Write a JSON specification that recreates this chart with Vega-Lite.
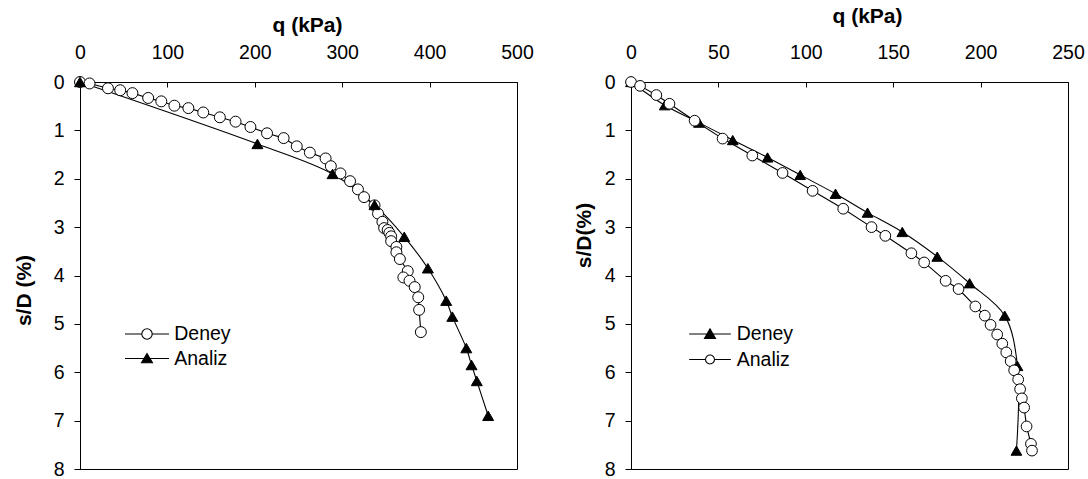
{
  "$schema": "https://vega.github.io/schema/vega-lite/v6.json",
  "background": "white",
  "padding": {"left": 12, "top": 4, "right": 5, "bottom": 5},
  "bounds": "flush",
  "spacing": 114,
  "config": {
    "view": {"stroke": "black", "strokeWidth": 1},
    "axis": {
      "grid": false, "domainColor": "black", "tickColor": "black", "labelColor": "black", "titleColor": "black",
      "labelFont": "Liberation Sans", "titleFont": "Liberation Sans", "labelFontSize": 19.5, "titleFontSize": 21,
      "titleFontWeight": "bold", "labelFlush": false, "labelOverlap": false, "domainWidth": 1, "tickWidth": 1
    },
    "legend": {
      "orient": "none", "labelFont": "Liberation Sans", "labelFontSize": 19.5, "labelColor": "black",
      "padding": 0, "titleFontSize": 0, "symbolOpacity": 1, "symbolStrokeWidth": 1.1
    }
  },
  "datasets": {
    "left": [
      {"series": "Deney", "i": 0, "q": 0, "s": 0},
      {"series": "Deney", "i": 1, "q": 10.9, "s": 0.03},
      {"series": "Deney", "i": 2, "q": 32, "s": 0.13},
      {"series": "Deney", "i": 3, "q": 46, "s": 0.17},
      {"series": "Deney", "i": 4, "q": 60, "s": 0.23},
      {"series": "Deney", "i": 5, "q": 78, "s": 0.33},
      {"series": "Deney", "i": 6, "q": 93, "s": 0.4},
      {"series": "Deney", "i": 7, "q": 108, "s": 0.49},
      {"series": "Deney", "i": 8, "q": 124, "s": 0.54},
      {"series": "Deney", "i": 9, "q": 141, "s": 0.63},
      {"series": "Deney", "i": 10, "q": 160, "s": 0.73},
      {"series": "Deney", "i": 11, "q": 178, "s": 0.82},
      {"series": "Deney", "i": 12, "q": 195, "s": 0.93},
      {"series": "Deney", "i": 13, "q": 214, "s": 1.06},
      {"series": "Deney", "i": 14, "q": 233, "s": 1.16},
      {"series": "Deney", "i": 15, "q": 248, "s": 1.33},
      {"series": "Deney", "i": 16, "q": 263, "s": 1.46},
      {"series": "Deney", "i": 17, "q": 281, "s": 1.58},
      {"series": "Deney", "i": 18, "q": 287, "s": 1.74},
      {"series": "Deney", "i": 19, "q": 298, "s": 1.89},
      {"series": "Deney", "i": 20, "q": 309, "s": 2.05},
      {"series": "Deney", "i": 21, "q": 318, "s": 2.22},
      {"series": "Deney", "i": 22, "q": 325, "s": 2.38},
      {"series": "Deney", "i": 23, "q": 337, "s": 2.55},
      {"series": "Deney", "i": 24, "q": 341, "s": 2.72},
      {"series": "Deney", "i": 25, "q": 346, "s": 2.89},
      {"series": "Deney", "i": 26, "q": 348, "s": 3.02},
      {"series": "Deney", "i": 27, "q": 352, "s": 3.06},
      {"series": "Deney", "i": 28, "q": 354, "s": 3.12},
      {"series": "Deney", "i": 29, "q": 356, "s": 3.19},
      {"series": "Deney", "i": 30, "q": 356, "s": 3.29},
      {"series": "Deney", "i": 31, "q": 362, "s": 3.41},
      {"series": "Deney", "i": 32, "q": 362, "s": 3.52},
      {"series": "Deney", "i": 33, "q": 366, "s": 3.66},
      {"series": "Deney", "i": 34, "q": 375, "s": 3.91},
      {"series": "Deney", "i": 35, "q": 370, "s": 4.04},
      {"series": "Deney", "i": 36, "q": 377, "s": 4.11},
      {"series": "Deney", "i": 37, "q": 383, "s": 4.24},
      {"series": "Deney", "i": 38, "q": 387, "s": 4.45},
      {"series": "Deney", "i": 39, "q": 388, "s": 4.71},
      {"series": "Deney", "i": 40, "q": 390, "s": 5.17},
      {"series": "Analiz", "i": 0, "q": 0, "s": 0},
      {"series": "Analiz", "i": 1, "q": 203, "s": 1.28},
      {"series": "Analiz", "i": 2, "q": 289, "s": 1.9},
      {"series": "Analiz", "i": 3, "q": 337, "s": 2.54},
      {"series": "Analiz", "i": 4, "q": 371, "s": 3.2},
      {"series": "Analiz", "i": 5, "q": 398, "s": 3.85},
      {"series": "Analiz", "i": 6, "q": 419, "s": 4.52},
      {"series": "Analiz", "i": 7, "q": 426, "s": 4.85},
      {"series": "Analiz", "i": 8, "q": 442, "s": 5.5},
      {"series": "Analiz", "i": 9, "q": 448, "s": 5.85},
      {"series": "Analiz", "i": 10, "q": 454, "s": 6.18},
      {"series": "Analiz", "i": 11, "q": 467, "s": 6.9}
    ],
    "right": [
      {"series": "Deney", "i": 0, "q": 0, "s": 0},
      {"series": "Deney", "i": 1, "q": 19.3, "s": 0.48},
      {"series": "Deney", "i": 2, "q": 38.9, "s": 0.84},
      {"series": "Deney", "i": 3, "q": 58.2, "s": 1.2},
      {"series": "Deney", "i": 4, "q": 78.1, "s": 1.56},
      {"series": "Deney", "i": 5, "q": 96.8, "s": 1.92},
      {"series": "Deney", "i": 6, "q": 117, "s": 2.31},
      {"series": "Deney", "i": 7, "q": 135.3, "s": 2.7},
      {"series": "Deney", "i": 8, "q": 155.2, "s": 3.1},
      {"series": "Deney", "i": 9, "q": 175.2, "s": 3.61},
      {"series": "Deney", "i": 10, "q": 193.7, "s": 4.16},
      {"series": "Deney", "i": 11, "q": 213.8, "s": 4.83},
      {"series": "Deney", "i": 12, "q": 221.1, "s": 5.87},
      {"series": "Deney", "i": 13, "q": 220.5, "s": 7.62},
      {"series": "Analiz", "i": 0, "q": 0, "s": 0},
      {"series": "Analiz", "i": 1, "q": 5.2, "s": 0.08},
      {"series": "Analiz", "i": 2, "q": 14.5, "s": 0.27},
      {"series": "Analiz", "i": 3, "q": 22, "s": 0.45},
      {"series": "Analiz", "i": 4, "q": 36.4, "s": 0.8},
      {"series": "Analiz", "i": 5, "q": 52.4, "s": 1.17},
      {"series": "Analiz", "i": 6, "q": 69.4, "s": 1.52},
      {"series": "Analiz", "i": 7, "q": 86.7, "s": 1.88},
      {"series": "Analiz", "i": 8, "q": 103.9, "s": 2.25},
      {"series": "Analiz", "i": 9, "q": 121.4, "s": 2.62},
      {"series": "Analiz", "i": 10, "q": 137.6, "s": 3.0},
      {"series": "Analiz", "i": 11, "q": 145.5, "s": 3.18},
      {"series": "Analiz", "i": 12, "q": 160.4, "s": 3.54},
      {"series": "Analiz", "i": 13, "q": 167.7, "s": 3.73},
      {"series": "Analiz", "i": 14, "q": 180, "s": 4.11},
      {"series": "Analiz", "i": 15, "q": 187.4, "s": 4.28},
      {"series": "Analiz", "i": 16, "q": 197, "s": 4.64},
      {"series": "Analiz", "i": 17, "q": 202.4, "s": 4.83},
      {"series": "Analiz", "i": 18, "q": 205.7, "s": 5.02},
      {"series": "Analiz", "i": 19, "q": 209.5, "s": 5.22},
      {"series": "Analiz", "i": 20, "q": 212.4, "s": 5.41},
      {"series": "Analiz", "i": 21, "q": 214.7, "s": 5.59},
      {"series": "Analiz", "i": 22, "q": 217.2, "s": 5.77},
      {"series": "Analiz", "i": 23, "q": 219.2, "s": 5.96},
      {"series": "Analiz", "i": 24, "q": 221.5, "s": 6.15},
      {"series": "Analiz", "i": 25, "q": 222.6, "s": 6.35},
      {"series": "Analiz", "i": 26, "q": 223.6, "s": 6.54},
      {"series": "Analiz", "i": 27, "q": 224.9, "s": 6.73},
      {"series": "Analiz", "i": 28, "q": 226.3, "s": 7.12},
      {"series": "Analiz", "i": 29, "q": 228.8, "s": 7.48},
      {"series": "Analiz", "i": 30, "q": 229.4, "s": 7.62}
    ]
  },
  "resolve": {
    "scale": {"x": "independent", "y": "independent", "shape": "independent", "fill": "independent"},
    "legend": {"shape": "independent", "fill": "independent"}
  },
  "hconcat": [
    {
      "width": 437,
      "height": 387,
      "data": {"name": "left"},
      "encoding": {
        "x": {"field": "q", "type": "quantitative",
          "scale": {"domain": [0, 500], "nice": false},
          "axis": {"orient": "top", "values": [0, 100, 200, 300, 400, 500], "tickSize": -5, "labelPadding": 25,
            "title": "q (kPa)", "titleX": 227, "titleY": -57, "titleBaseline": "middle", "titleAlign": "center"}},
        "y": {"field": "s", "type": "quantitative",
          "scale": {"domain": [0, 8], "reverse": true, "nice": false},
          "axis": {"values": [0, 1, 2, 3, 4, 5, 6, 7, 8], "tickSize": 6, "labelPadding": 10,
            "title": "s/D (%)", "titleX": -56, "titleY": 208, "titleBaseline": "middle", "titleAlign": "center", "titleAngle": -90}},
        "order": {"field": "i", "type": "quantitative"}
      },
      "layer": [
        {"transform": [{"filter": "datum.series === 'Deney'"}],
         "mark": {"type": "line", "color": "black", "strokeWidth": 1.1}},
        {"transform": [{"filter": "datum.series === 'Analiz'"}],
         "mark": {"type": "line", "color": "black", "strokeWidth": 1.1, "interpolate": "catmull-rom"}},
        {"transform": [{"filter": "datum.series === 'Deney'"}],
         "mark": {"type": "point", "shape": "circle", "filled": true, "fill": "white", "size": 120, "stroke": "black", "strokeWidth": 1, "opacity": 1}},
        {"transform": [{"filter": "datum.series === 'Analiz'"}],
         "mark": {"type": "point", "shape": "triangle-up", "filled": true, "fill": "black", "size": 120, "stroke": "black", "strokeWidth": 1, "opacity": 1}},
        {"mark": {"type": "point", "filled": true, "size": 100, "opacity": 0},
         "encoding": {
           "stroke": {"value": "black"},
           "strokeWidth": {"value": 1.1},
           "shape": {"field": "series", "type": "nominal",
             "scale": {"domain": ["Deney", "Analiz"], "range": ["M-4.4,0H-1.04M1.04,0H4.4M1.04,0A1.04,1.04,0,1,1,-1.04,0A1.04,1.04,0,1,1,1.04,0Z", "M-4.4,0H4.4M0,-1L1.1,0.84L-1.1,0.84Z"]},
             "legend": {"title": null, "legendX": 57.25, "legendY": 242.25, "symbolSize": 100, "labelOffset": 17.5, "rowPadding": 3.5}},
           "fill": {"field": "series", "type": "nominal",
             "scale": {"domain": ["Deney", "Analiz"], "range": ["white", "black"]},
             "legend": {"title": null, "legendX": 57.25, "legendY": 242.25, "symbolSize": 100, "labelOffset": 17.5, "rowPadding": 3.5}}
         }}
      ]
    },
    {
      "width": 437,
      "height": 387,
      "data": {"name": "right"},
      "encoding": {
        "x": {"field": "q", "type": "quantitative",
          "scale": {"domain": [0, 250], "nice": false},
          "axis": {"orient": "top", "values": [0, 50, 100, 150, 200, 250], "tickSize": -5, "labelPadding": 25,
            "title": "q (kPa)", "titleX": 236, "titleY": -66, "titleBaseline": "middle", "titleAlign": "center"}},
        "y": {"field": "s", "type": "quantitative",
          "scale": {"domain": [0, 8], "reverse": true, "nice": false},
          "axis": {"values": [0, 1, 2, 3, 4, 5, 6, 7, 8], "tickSize": 6, "labelPadding": 10,
            "title": "s/D(%)", "titleX": -47, "titleY": 153, "titleBaseline": "middle", "titleAlign": "center", "titleAngle": -90}},
        "order": {"field": "i", "type": "quantitative"}
      },
      "layer": [
        {"transform": [{"filter": "datum.series === 'Deney'"}],
         "mark": {"type": "line", "color": "black", "strokeWidth": 1.1, "interpolate": "catmull-rom"}},
        {"transform": [{"filter": "datum.series === 'Analiz'"}],
         "mark": {"type": "line", "color": "black", "strokeWidth": 1.1}},
        {"transform": [{"filter": "datum.series === 'Deney'"}],
         "mark": {"type": "point", "shape": "triangle-up", "filled": true, "fill": "black", "size": 115, "stroke": "black", "strokeWidth": 1, "opacity": 1}},
        {"transform": [{"filter": "datum.series === 'Analiz'"}],
         "mark": {"type": "point", "shape": "circle", "filled": true, "fill": "white", "size": 115, "stroke": "black", "strokeWidth": 1, "opacity": 1}},
        {"mark": {"type": "point", "filled": true, "size": 100, "opacity": 0},
         "encoding": {
           "stroke": {"value": "black"},
           "strokeWidth": {"value": 1.1},
           "shape": {"field": "series", "type": "nominal",
             "scale": {"domain": ["Deney", "Analiz"], "range": ["M-4.17,0H4.17M0,-1.05L1.1,0.87L-1.1,0.87Z", "M-4.17,0H-0.9M0.9,0H4.17M0.9,0A0.9,0.9,0,1,1,-0.9,0A0.9,0.9,0,1,1,0.9,0Z"]},
             "legend": {"title": null, "legendX": 69.25, "legendY": 242.25, "symbolSize": 100, "labelOffset": 17, "rowPadding": 4.5}},
           "fill": {"field": "series", "type": "nominal",
             "scale": {"domain": ["Deney", "Analiz"], "range": ["black", "white"]},
             "legend": {"title": null, "legendX": 69.25, "legendY": 242.25, "symbolSize": 100, "labelOffset": 17, "rowPadding": 4.5}}
         }}
      ]
    }
  ]
}
